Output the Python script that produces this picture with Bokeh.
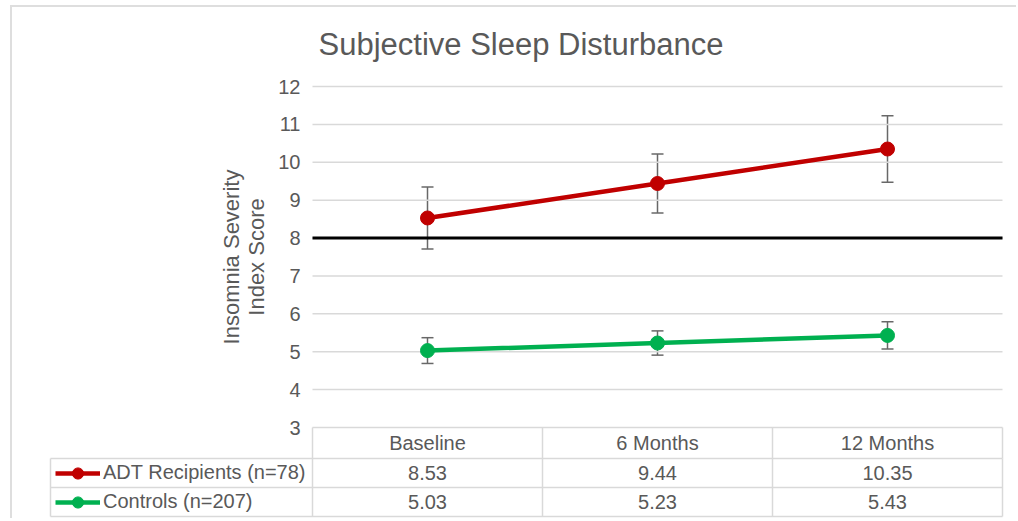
import numpy as np
from bokeh.plotting import figure
from bokeh.models import Range1d, FixedTicker, Whisker, TeeHead, ColumnDataSource, Legend, LegendItem
from bokeh.embed import file_html
from bokeh.resources import INLINE
from bokeh.core.properties import value

# ---------------- data ----------------
title_text = "Subjective Sleep Disturbance"
categories = ["Baseline", "6 Months", "12 Months"]
series_names = ["ADT Recipients (n=78)", "Controls (n=207)"]
adt_mean = [8.53, 9.44, 10.35]
adt_err = [0.82, 0.78, 0.88]
ctrl_mean = [5.03, 5.23, 5.43]
ctrl_err = [0.34, 0.32, 0.36]
y_ticks = [3, 4, 5, 6, 7, 8, 9, 10, 11, 12]
threshold = 8
y_label = "Insomnia Severity\nIndex Score"

# ---------------- style ----------------
RED = "#C00000"
GREEN = "#00B050"
TXT = "#595959"
GRID = "#D9D9D9"
ERR = "#686868"
FONT = "Liberation Sans"

# ---------------- geometry (page px) ----------------
MARGIN_L, MARGIN_T, BORDER = 10, 5, 2
OX, OY = MARGIN_L + BORDER, MARGIN_T + BORDER      # canvas origin on the page
W, H = 1006, 513
frame_l, frame_r, frame_t, frame_b = 48, 1004, 72, 519
plot_l, plot_r = 312, 1002          # chart plot area
y12_px, y3_px = 86, 427
header_px, row_px = 31, 29
table_l = 50

n = len(categories)
idx = np.arange(n)
bounds = np.arange(n + 1) - 0.5
col_px = (plot_r - plot_l) / n
ppu = (y3_px - y12_px) / (max(y_ticks) - min(y_ticks))

x0 = bounds[0] - (plot_l - frame_l) / col_px
x1 = bounds[-1] + (frame_r - plot_r) / col_px
y_hi = max(y_ticks) + (y12_px - frame_t) / ppu
y_lo = min(y_ticks) - (frame_b - y3_px) / ppu
tbl_x = bounds[0] - (plot_l - table_l) / col_px
y_head = min(y_ticks) - header_px / ppu
y_rows = [y_head - k * row_px / ppu for k in range(3)]

p = figure(width=W, height=H, x_range=Range1d(x0, x1), y_range=Range1d(y_lo, y_hi),
           output_backend="svg", toolbar_location=None, x_axis_location=None,
           min_border_left=frame_l - OX, min_border_right=OX + W - frame_r,
           min_border_top=frame_t - OY, min_border_bottom=OY + H - frame_b,
           title=title_text)
p.margin = (MARGIN_T, 0, 0, MARGIN_L)
p.styles = {"border-left": f"{BORDER}px solid #DEDEDE", "border-top": f"{BORDER}px solid #DEDEDE"}
p.outline_line_color = None
p.background_fill_color = "white"
p.border_fill_color = "white"
p.grid.visible = False

ax = p.yaxis[0]
ax.fixed_location = bounds[0]
ax.bounds = (min(y_ticks), max(y_ticks))
ax.ticker = FixedTicker(ticks=y_ticks)
ax.axis_line_color = None
ax.major_tick_line_color = None
ax.minor_tick_line_color = None
ax.major_tick_out = 0
ax.major_tick_in = 0
ax.major_label_standoff = 12
ax.major_label_text_font = FONT
ax.major_label_text_font_size = "20px"
ax.major_label_text_color = TXT
ax.axis_label = y_label
ax.axis_label_text_font = FONT
ax.axis_label_text_font_size = "22px"
ax.axis_label_text_font_style = "normal"
ax.axis_label_text_color = TXT
ax.axis_label_text_line_height = 1.0
ax.axis_label_standoff = 6

p.title.text_font = FONT
p.title.text_font_size = "31px"
p.title.text_font_style = "normal"
p.title.text_color = TXT
p.title.align = "left"
p.title.offset = 318 - frame_l
p.title.vertical_align = "middle"
p.title.standoff = 20

# horizontal gridlines over the plot area (the y=3 one is the table's top edge)
p.segment(x0=bounds[0], y0=y_ticks, x1=bounds[-1], y1=y_ticks, line_color=GRID, line_width=1.5)

# threshold line
p.segment(x0=[bounds[0]], y0=[threshold], x1=[bounds[-1]], y1=[threshold],
          line_color="black", line_width=3)

renderers = []
for mean, err, color in [(adt_mean, adt_err, RED), (ctrl_mean, ctrl_err, GREEN)]:
    m = np.array(mean)
    e = np.array(err)
    src = ColumnDataSource(dict(x=idx, y=m, upper=m + e, lower=m - e))
    wk = Whisker(source=src, base="x", upper="upper", lower="lower",
                 line_color=ERR, line_width=1.5, level="underlay",
                 upper_head=TeeHead(size=12, line_color=ERR, line_width=1.5),
                 lower_head=TeeHead(size=12, line_color=ERR, line_width=1.5))
    p.add_layout(wk)
    lr = p.line("x", "y", source=src, line_color=color, line_width=4.5)
    sr = p.scatter("x", "y", source=src, size=14, fill_color=color, line_color=color)
    renderers.append([lr, sr])

# ---------------- data table ----------------
# header row
p.segment(x0=bounds, y0=y_head, x1=bounds, y1=min(y_ticks), line_color=GRID, line_width=1.5)
p.text(x=idx, y=[(y_head + min(y_ticks)) / 2] * n, text=categories,
       text_align="center", text_baseline="middle", text_font=value(FONT),
       text_font_size="20px", text_color=TXT)
# body rows
p.segment(x0=tbl_x, y0=y_rows, x1=bounds[-1], y1=y_rows, line_color=GRID, line_width=1.5)
vx = [tbl_x] + list(bounds)
p.segment(x0=vx, y0=y_rows[0], x1=vx, y1=y_rows[-1], line_color=GRID, line_width=1.5)
for r, mean in enumerate([adt_mean, ctrl_mean]):
    yc = (y_rows[r] + y_rows[r + 1]) / 2
    p.text(x=idx, y=[yc] * n, text=[f"{v:.2f}" for v in mean],
           text_align="center", text_baseline="middle", text_font=value(FONT),
           text_font_size="20px", text_color=TXT)

legend = Legend(items=[LegendItem(label=series_names[i], renderers=renderers[i]) for i in range(2)],
                location=(table_l - frame_l + 5, frame_b - (y3_px + header_px + 2 * row_px) + 0.5),
                glyph_width=45, glyph_height=28, label_standoff=3, spacing=1,
                padding=0, margin=0, border_line_color=None, background_fill_alpha=0,
                label_text_font=FONT, label_text_font_size="20px", label_text_color=TXT)
p.add_layout(legend)

open("out.html", "w").write(file_html(p, INLINE))
